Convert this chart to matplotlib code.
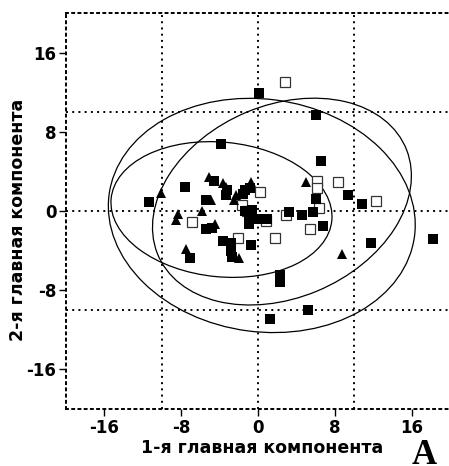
import matplotlib
matplotlib.use("Agg")
import matplotlib.pyplot as plt
from matplotlib.patches import Ellipse
import numpy as np

# ---- data ----
filled_sq_x = [0.1, 6.0, -3.9, 6.6, -4.6, -7.6, -3.2, -3.3, -1.3, -1.6, -0.8, -5.4, -11.3,
               -0.6, -1.3, -0.9, -0.9, 0.1, 0.9, 3.2, 4.6, 5.7, 6.1, 9.4, 10.8, 18.2, 11.8,
               6.8, -0.7, -3.6, -2.8, -2.8, -2.7, -7.1, -5.4, -4.8, 2.3, 2.3, 5.2, 1.3]
filled_sq_y = [11.9, 9.7, 6.8, 5.1, 3.0, 2.4, 2.1, 1.6, 2.1, 1.7, 2.3, 1.1, 0.9,
               0.1, 0.0, -0.6, -1.3, -0.8, -0.8, -0.1, -0.4, -0.1, 1.2, 1.6, 0.7, -2.8, -3.2,
               -1.5, -3.4, -3.0, -3.2, -4.0, -4.6, -4.7, -1.8, -1.7, -6.5, -7.2, -10.0, -10.9]

open_sq_x = [2.8, 0.2, -1.7, -1.1, 0.8, 2.9, 6.4, 6.2, 6.2, 8.3, 12.3, 5.4, 1.8, -2.1, -6.9]
open_sq_y = [13.0, 1.9, 0.6, 0.0, -1.0, -0.4, 0.3, 3.0, 2.3, 2.9, 1.0, -1.8, -2.7, -2.7, -1.1]

tri_x = [-5.1, -3.6, -0.7, -2.3, -2.5, 5.0, 8.8, -2.0, -7.5, -4.5, -8.3, -8.5, -5.8, -4.9, -10.1, -3.3]
tri_y = [3.4, 2.8, 2.9, 1.6, 1.1, 2.9, -4.3, -4.7, -3.8, -1.3, -0.3, -0.9, 0.0, 1.1, 1.8, 2.4]

# ellipses: center x, center y, width, height, angle
ell_cx = [-3.8, 0.4, 2.5]
ell_cy = [0.15, -0.45, 0.95]
ell_w = [23.1, 32.1, 28.0]
ell_h = [13.6, 23.5, 19.5]
ell_ang = [-5.4, -7.3, 21.9]

xticks = [-16, -8, 0, 8, 16]
yticks = [-16, -8, 0, 8, 16]
grid_vals = [-10, 0, 10]

plt.rcParams['font.family'] = ['DejaVu Sans']

fig = plt.figure(figsize=(4.49, 4.66), dpi=100)
ax = fig.add_axes([66/449, 1 - 409/466, 1 - 66/449 + 0.002, (409 - 13)/466])
ax.set_xlim(-20, 20)
ax.set_ylim(-20, 20)

dot = (0, (1, 2.2))
for g in grid_vals:
    ax.axvline(g, color='black', lw=1.4, ls=dot, zorder=1)
    ax.axhline(g, color='black', lw=1.4, ls=dot, zorder=1)

for cx, cy, w, h, a in zip(ell_cx, ell_cy, ell_w, ell_h, ell_ang):
    ax.add_patch(Ellipse((cx, cy), w, h, angle=a, fill=False, edgecolor='black', lw=0.9, zorder=2))

ax.plot(open_sq_x, open_sq_y, ls='none', marker='s', ms=6.5, mfc='white', mec='#333333', mew=0.9, zorder=3)
ax.plot(filled_sq_x, filled_sq_y, ls='none', marker='s', ms=6.5, mfc='black', mec='black', mew=0, zorder=4)
ax.plot(tri_x, tri_y, ls='none', marker='^', ms=7, mfc='black', mec='black', mew=0, zorder=4)

for side in ['left', 'bottom', 'top']:
    ax.spines[side].set_linestyle(dot)
    ax.spines[side].set_linewidth(1.4)
ax.spines['right'].set_visible(False)

ax.set_xticks(xticks)
ax.set_yticks(yticks)
ax.set_xticklabels([str(v) for v in xticks], fontsize=12, fontweight='bold')
ax.set_yticklabels([str(v) for v in yticks], fontsize=12, fontweight='bold')
ax.tick_params(direction='out', length=5, width=1.0, pad=2)

fig.text(262/449, 1 - 448/466, '1-я главная компонента', ha='center', va='center',
         fontsize=12.5, fontweight='bold')
fig.text(18/449, 1 - 220/466, '2-я главная компонента', ha='center', va='center',
         fontsize=12.5, fontweight='bold', rotation=90)
fig.text(424/449, 1 - 464/466, 'A', ha='center', va='baseline', fontsize=25,
         fontweight='bold', family=['Liberation Serif', 'DejaVu Serif'])

fig.savefig('out.png', dpi=100)
